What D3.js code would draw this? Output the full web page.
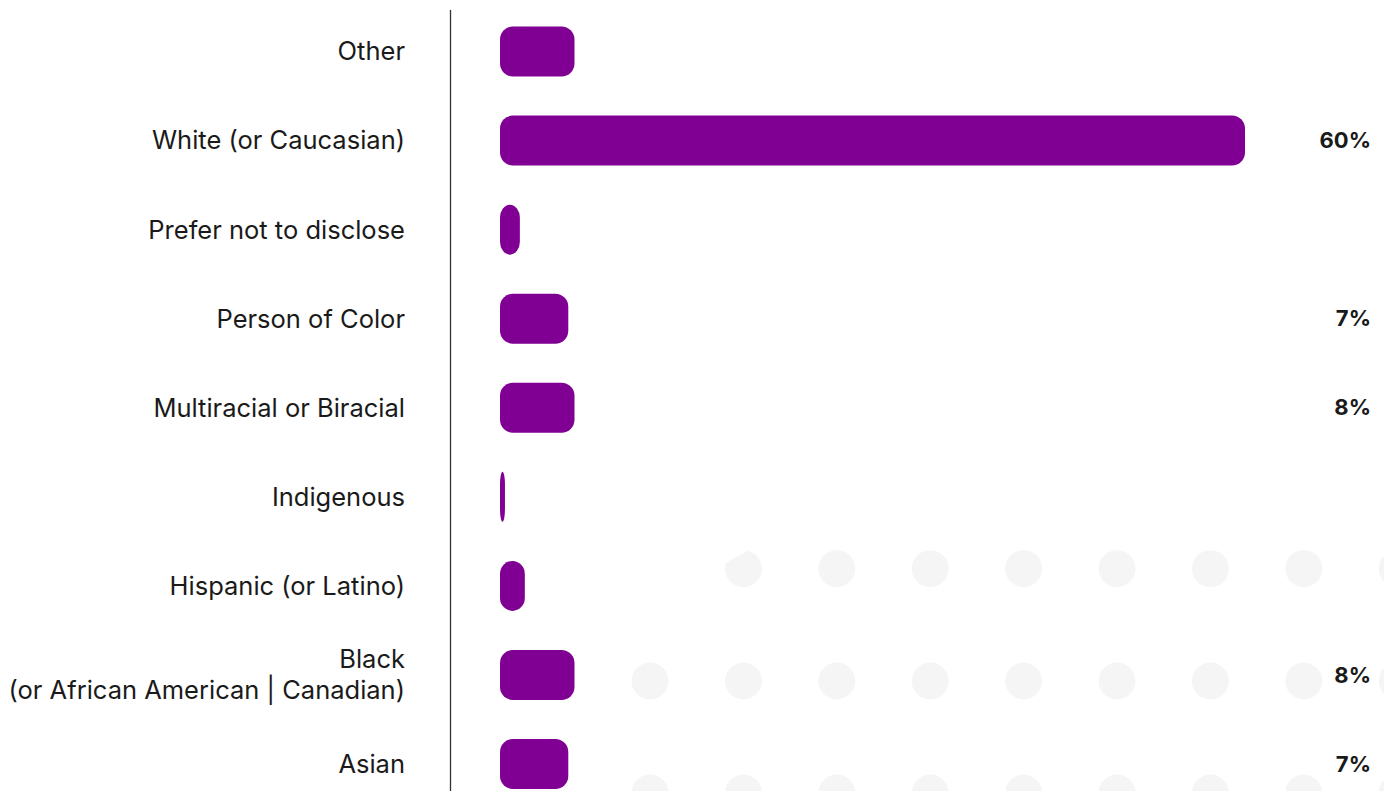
<!DOCTYPE html>
<html>
<head>
<meta charset="utf-8">
<script src="https://cdn.jsdelivr.net/npm/d3@7"></script>
<style>
  html, body { margin: 0; padding: 0; background: #ffffff; }
  svg { display: block; }
</style>
</head>
<body>
<svg id="chart" width="1384" height="791"></svg>
<script>
// ---- data ----
const categories = [
  "Other",
  "White (or Caucasian)",
  "Prefer not to disclose",
  "Person of Color",
  "Multiracial or Biracial",
  "Indigenous",
  "Hispanic (or Latino)",
  "Black\n(or African American | Canadian)",
  "Asian"
];
const values = [6, 60, 1.6, 5.5, 6, 0.4, 2, 6, 5.5];
const valueLabels = ["", "60%", "", "7%", "8%", "", "", "8%", "7%"];

// ---- layout ----
const W = 1384, H = 791;
const svg = d3.select("#chart");
const barColor = "#800093";
const textFont = "Inter, 'Noto Sans', sans-serif";

const x = d3.scaleLinear().domain([0, 60]).range([500, 1245]);
const y = d3.scalePoint().domain(categories).range([51.5, 764]);
const barH = 50;

// ---- decorative dot pattern ----
const defs = svg.append("defs");
defs.append("clipPath").attr("id", "dotclip")
  .append("polygon")
  .attr("points", [[600, 603.8 + 0.54 * 50], [600, 800], [1400, 800], [1400, 563.3 - 0.54 * 675], [725, 563.3]].map(p => p.join(",")).join(" "));
const dotXs = d3.range(0, 9).map(i => 650 + i * 93.4);
const dotYs = [568.7, 681, 793];
const dots = [];
dotYs.forEach(dy => dotXs.forEach(dx => dots.push([dx, dy])));
svg.append("g").attr("clip-path", "url(#dotclip)")
  .selectAll("circle").data(dots).join("circle")
  .attr("cx", d => d[0]).attr("cy", d => d[1]).attr("r", 18.5)
  .attr("fill", "#f5f5f5");

// ---- axis line ----
svg.append("line")
  .attr("x1", 450.5).attr("x2", 450.5).attr("y1", 10).attr("y2", H)
  .attr("stroke", "#333").attr("stroke-width", 1.3);

// ---- bars ----
svg.append("g").selectAll("rect").data(categories).join("rect")
  .attr("x", x(0))
  .attr("y", d => y(d) - barH / 2)
  .attr("width", (d, i) => x(values[i]) - x(0))
  .attr("height", barH)
  .attr("rx", (d, i) => Math.min(13, (x(values[i]) - x(0)) / 2))
  .attr("ry", 13)
  .attr("fill", barColor);

// ---- category labels ----
const lab = svg.append("g").selectAll("text").data(categories).join("text")
  .attr("x", 405)
  .attr("text-anchor", "end")
  .attr("font-family", textFont)
  .attr("font-size", 25.5)
  .attr("fill", "#1a1a1a");
lab.each(function(d) {
  const lines = d.split("\n");
  const t = d3.select(this);
  const lh = 31;
  const y0 = y(d) - (lines.length - 1) * lh / 2;
  lines.forEach((ln, k) => {
    t.append("tspan").attr("x", 405).attr("y", y0 + k * lh)
      .attr("dy", "0.35em").text(ln);
  });
});

// ---- value labels ----
svg.append("g").selectAll("text").data(categories).join("text")
  .attr("x", 1371)
  .attr("y", d => y(d))
  .attr("dy", "0.35em")
  .attr("text-anchor", "end")
  .attr("font-family", textFont)
  .attr("font-weight", 700)
  .attr("font-size", 22)
  .attr("fill", "#1a1a1a")
  .text((d, i) => valueLabels[i]);
</script>
</body>
</html>
